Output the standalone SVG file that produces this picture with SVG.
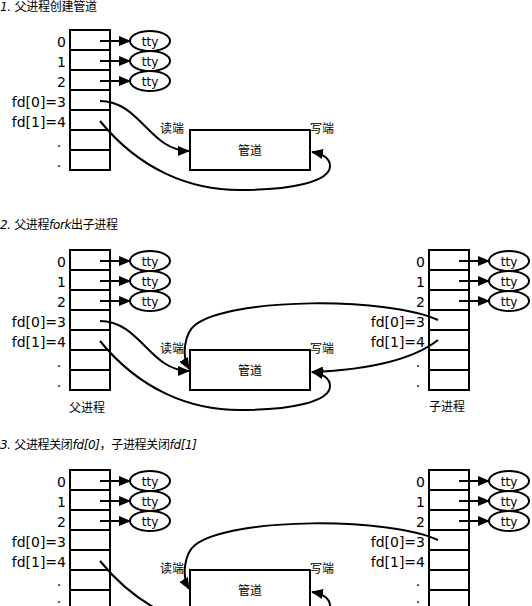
<svg xmlns="http://www.w3.org/2000/svg" width="532" height="606" viewBox="0 0 532 606">
<style>
text{font-family:"DejaVu Sans","Noto Sans CJK SC",sans-serif;fill:#000}
.title{font-size:12px}
.it{font-style:italic}
.lbl{font-size:14px;text-anchor:end}
.dot{font-size:14px;text-anchor:middle}
.cjk{font-size:12px}
.mid{text-anchor:middle}
.tty{font-size:12px;text-anchor:middle}
.box{fill:#fff;stroke:#000;stroke-width:2}
.grid{stroke:#000;stroke-width:2}
.ell{fill:#fff;stroke:#000;stroke-width:2}
.con{fill:none;stroke:#000;stroke-width:2;marker-end:url(#ah)}
</style>
<defs>
<marker id="ah" markerUnits="userSpaceOnUse" markerWidth="12" markerHeight="10" refX="11" refY="5" orient="auto">
<path d="M0,0 L12,5 L0,10 z" fill="#000"/>
</marker>
</defs>
<rect width="532" height="606" fill="#fff"/>

<!-- titles -->
<g id="titles">
<text class="title" x="0" y="11" textLength="97" lengthAdjust="spacing"><tspan class="it">1.</tspan> 父进程创建管道</text>
<text class="title" x="0" y="229" textLength="118" lengthAdjust="spacing"><tspan class="it">2.</tspan> 父进程<tspan class="it">fork</tspan>出子进程</text>
<text class="title" x="0" y="449" textLength="197" lengthAdjust="spacing"><tspan class="it">3.</tspan> 父进程关闭<tspan class="it">fd[0]</tspan>，子进程关闭<tspan class="it">fd[1]</tspan></text>
</g>

<!-- ===== Section 1 ===== -->
<g id="parent1">
<rect class="box" x="70" y="30" width="40" height="140"/>
<path class="grid" d="M70,50H110M70,70H110M70,90H110M70,110H110M70,130H110M70,150H110"/>
<text class="lbl" x="66" y="47">0</text>
<text class="lbl" x="66" y="67">1</text>
<text class="lbl" x="66" y="87">2</text>
<text class="lbl" x="66" y="107">fd[0]=3</text>
<text class="lbl" x="66" y="127">fd[1]=4</text>
<text class="dot" x="59" y="147">.</text>
<text class="dot" x="59" y="167">.</text>
</g>
<g id="tty1a"><ellipse class="ell" cx="150" cy="41" rx="20" ry="10"/><text class="tty" x="150" y="45.5">tty</text></g>
<g id="tty1b"><ellipse class="ell" cx="150" cy="61" rx="20" ry="10"/><text class="tty" x="150" y="65.5">tty</text></g>
<g id="tty1c"><ellipse class="ell" cx="150" cy="81" rx="20" ry="10"/><text class="tty" x="150" y="85.5">tty</text></g>
<g id="pipe1">
<rect class="box" x="190" y="130" width="120" height="40"/>
<text class="cjk mid" x="250" y="155">管道</text>
<text class="cjk" x="160" y="133">读端</text>
<text class="cjk" x="310" y="133">写端</text>
</g>

<!-- ===== Section 2 ===== -->
<g id="parent2">
<rect class="box" x="70" y="250" width="40" height="140"/>
<path class="grid" d="M70,270H110M70,290H110M70,310H110M70,330H110M70,350H110M70,370H110"/>
<text class="lbl" x="66" y="267">0</text>
<text class="lbl" x="66" y="287">1</text>
<text class="lbl" x="66" y="307">2</text>
<text class="lbl" x="66" y="327">fd[0]=3</text>
<text class="lbl" x="66" y="347">fd[1]=4</text>
<text class="dot" x="59" y="367">.</text>
<text class="dot" x="59" y="387">.</text>
<text class="cjk mid" x="87" y="412">父进程</text>
</g>
<g id="tty2a"><ellipse class="ell" cx="150" cy="261" rx="20" ry="10"/><text class="tty" x="150" y="265.5">tty</text></g>
<g id="tty2b"><ellipse class="ell" cx="150" cy="281" rx="20" ry="10"/><text class="tty" x="150" y="285.5">tty</text></g>
<g id="tty2c"><ellipse class="ell" cx="150" cy="301" rx="20" ry="10"/><text class="tty" x="150" y="305.5">tty</text></g>
<g id="pipe2">
<rect class="box" x="190" y="350" width="120" height="40"/>
<text class="cjk mid" x="250" y="375">管道</text>
<text class="cjk" x="160" y="353">读端</text>
<text class="cjk" x="310" y="353">写端</text>
</g>
<g id="child2">
<rect class="box" x="429" y="250" width="40" height="140"/>
<path class="grid" d="M429,270H469M429,290H469M429,310H469M429,330H469M429,350H469M429,370H469"/>
<text class="lbl" x="425" y="267">0</text>
<text class="lbl" x="425" y="287">1</text>
<text class="lbl" x="425" y="307">2</text>
<text class="lbl" x="425" y="327">fd[0]=3</text>
<text class="lbl" x="425" y="347">fd[1]=4</text>
<text class="dot" x="418" y="367">.</text>
<text class="dot" x="418" y="387">.</text>
<text class="cjk mid" x="447" y="411">子进程</text>
</g>
<g id="tty2d"><ellipse class="ell" cx="509" cy="261" rx="20" ry="10"/><text class="tty" x="509" y="265.5">tty</text></g>
<g id="tty2e"><ellipse class="ell" cx="509" cy="281" rx="20" ry="10"/><text class="tty" x="509" y="285.5">tty</text></g>
<g id="tty2f"><ellipse class="ell" cx="509" cy="301" rx="20" ry="10"/><text class="tty" x="509" y="305.5">tty</text></g>

<!-- ===== Section 3 ===== -->
<g id="parent3">
<rect class="box" x="70" y="470" width="40" height="140"/>
<path class="grid" d="M70,490H110M70,510H110M70,530H110M70,550H110M70,570H110M70,590H110"/>
<text class="lbl" x="66" y="487">0</text>
<text class="lbl" x="66" y="507">1</text>
<text class="lbl" x="66" y="527">2</text>
<text class="lbl" x="66" y="547">fd[0]=3</text>
<text class="lbl" x="66" y="567">fd[1]=4</text>
<text class="dot" x="59" y="586">.</text>
<text class="dot" x="59" y="603">.</text>
</g>
<g id="tty3a"><ellipse class="ell" cx="150" cy="481" rx="20" ry="10"/><text class="tty" x="150" y="485.5">tty</text></g>
<g id="tty3b"><ellipse class="ell" cx="150" cy="501" rx="20" ry="10"/><text class="tty" x="150" y="505.5">tty</text></g>
<g id="tty3c"><ellipse class="ell" cx="150" cy="521" rx="20" ry="10"/><text class="tty" x="150" y="525.5">tty</text></g>
<g id="pipe3">
<rect class="box" x="190" y="570" width="120" height="40"/>
<text class="cjk mid" x="250" y="595">管道</text>
<text class="cjk" x="160" y="573">读端</text>
<text class="cjk" x="310" y="573">写端</text>
</g>
<g id="child3">
<rect class="box" x="429" y="470" width="40" height="140"/>
<path class="grid" d="M429,490H469M429,510H469M429,530H469M429,550H469M429,570H469M429,590H469"/>
<text class="lbl" x="425" y="487">0</text>
<text class="lbl" x="425" y="507">1</text>
<text class="lbl" x="425" y="527">2</text>
<text class="lbl" x="425" y="547">fd[0]=3</text>
<text class="lbl" x="425" y="567">fd[1]=4</text>
<text class="dot" x="418" y="586">.</text>
<text class="dot" x="418" y="603">.</text>
</g>
<g id="tty3d"><ellipse class="ell" cx="509" cy="481" rx="20" ry="10"/><text class="tty" x="509" y="485.5">tty</text></g>
<g id="tty3e"><ellipse class="ell" cx="509" cy="501" rx="20" ry="10"/><text class="tty" x="509" y="505.5">tty</text></g>
<g id="tty3f"><ellipse class="ell" cx="509" cy="521" rx="20" ry="10"/><text class="tty" x="509" y="525.5">tty</text></g>

<!-- connectors -->
<g id="connectors">
<path class="con" d="M100,41H130"/>
<path class="con" d="M100,61H130"/>
<path class="con" d="M100,81H130"/>
<path class="con" d="M100,101 C140,101 150,151 189,151"/>
<path class="con" d="M100,121 C140,170 190,190 240,190 C290,190 330,182 330,166 C330,158 323,154 312,152"/>

<path class="con" d="M100,261H130"/>
<path class="con" d="M100,281H130"/>
<path class="con" d="M100,301H130"/>
<path class="con" d="M100,321 C140,321 150,371 189,371"/>
<path class="con" d="M100,341 C140,390 190,410 240,410 C290,410 330,402 330,386 C330,378 323,374 312,372"/>
<path class="con" d="M459,261H489"/>
<path class="con" d="M459,281H489"/>
<path class="con" d="M459,301H489"/>
<path class="con" d="M438,320 C390,297 230,297 195,325 C185,333 181,355 189,369"/>
<path class="con" d="M438,340 C410,362 360,370 312,372"/>

<path class="con" d="M100,481H130"/>
<path class="con" d="M100,501H130"/>
<path class="con" d="M100,521H130"/>
<path class="con" d="M100,561 C140,610 190,630 240,630 C290,630 330,622 330,606 C330,598 323,594 312,592"/>
<path class="con" d="M459,481H489"/>
<path class="con" d="M459,501H489"/>
<path class="con" d="M459,521H489"/>
<path class="con" d="M438,540 C390,517 230,517 195,545 C185,553 181,575 189,589"/>
</g>
</svg>
